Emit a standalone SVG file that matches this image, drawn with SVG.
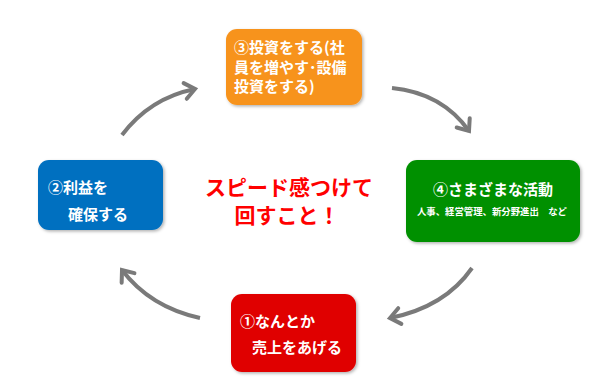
<svg xmlns="http://www.w3.org/2000/svg" width="600" height="382" viewBox="0 0 600 382">
<defs>
<marker id="ah" markerUnits="userSpaceOnUse" markerWidth="30" markerHeight="30" viewBox="-15 -15 30 30" refX="0" refY="0" orient="auto">
<path d="M-10,-8 L0,0 L-10,8" fill="none" stroke="#7a7a7a" stroke-width="4" stroke-linecap="round" stroke-linejoin="miter"/>
</marker>
<filter id="sh" x="-10%" y="-10%" width="130%" height="130%">
<feDropShadow dx="1.5" dy="1.5" stdDeviation="1.5" flood-color="#000" flood-opacity="0.3"/>
</filter>
</defs>
<style>
text{font-family:"Noto Sans CJK JP","Noto Sans CJK SC",sans-serif;font-weight:bold;}
.w{fill:#ffffff;font-size:15px;}
.box{filter:url(#sh);}
.arr{fill:none;stroke:#7a7a7a;stroke-width:4;marker-end:url(#ah);}
</style>
<rect width="600" height="382" fill="#ffffff"/>
<g id="connectors">
<path class="arr" d="M122,135 Q150,98 195,89"/>
<path class="arr" d="M392,88 Q442,93 469,131"/>
<path class="arr" d="M472,268 Q445,307 390,318"/>
<path class="arr" d="M200,318 Q150,307 122,270"/>
</g>
<g id="node3">
<rect class="box" x="226" y="29" width="136" height="76" rx="11" fill="#f7931e"/>
<text class="w" x="234" y="53">③投資をする(社</text>
<text class="w" x="234" y="73">員を増やす･設備</text>
<text class="w" x="234" y="92">投資をする)</text>
</g>
<g id="node2">
<rect class="box" x="38" y="160" width="125" height="70" rx="11" fill="#0070c0"/>
<text class="w" x="48" y="193">②利益を</text>
<text class="w" x="68" y="220">確保する</text>
</g>
<g id="node4">
<rect class="box" x="406" y="160" width="174" height="82" rx="11" fill="#009000"/>
<text class="w" x="493" y="195" text-anchor="middle" font-size="14">④さまざまな活動</text>
<text x="492" y="215" text-anchor="middle" fill="#ffffff" font-size="9.4">人事、経営管理、新分野進出　など</text>
</g>
<g id="node1">
<rect class="box" x="231" y="294" width="125" height="78" rx="11" fill="#e00000"/>
<text class="w" x="240" y="327">①なんとか</text>
<text class="w" x="252" y="353">売上をあげる</text>
</g>
<g id="center">
<text x="289" y="195" text-anchor="middle" fill="#ff0000" font-size="21">スピード感つけて</text>
<text x="287" y="223" text-anchor="middle" fill="#ff0000" font-size="21">回すこと！</text>
</g>
</svg>
